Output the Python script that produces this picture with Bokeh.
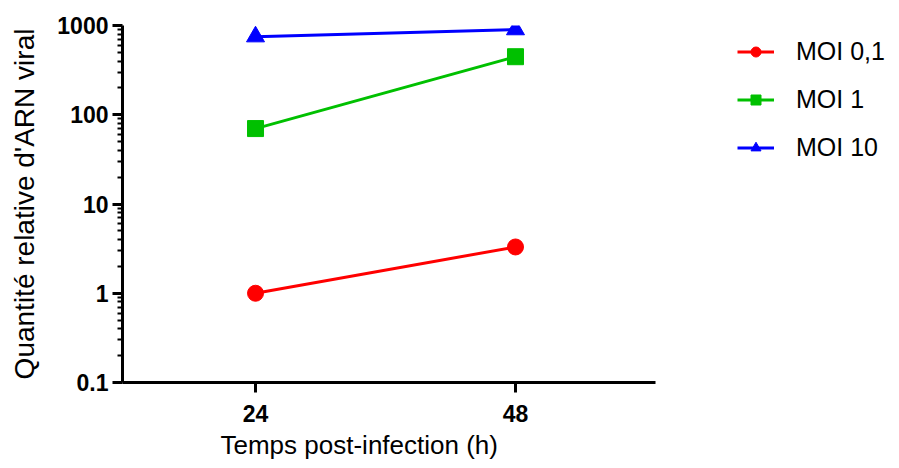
from bokeh.plotting import figure
from bokeh.models import Range1d, FixedTicker, CustomJSTickFormatter, Legend, LegendItem, Title
from bokeh.embed import file_html
from bokeh.resources import INLINE

hours = [24, 48]
moi_01 = [1.0, 3.3]
moi_1 = [70, 447]
moi_10 = [750, 900]
series_names = ["MOI 0,1", "MOI 1", "MOI 10"]
y_major = [0.1, 1, 10, 100, 1000]

colors = ["#FF0000", "#00C000", "#0000FF"]
markers = ["circle", "square", "triangle"]

W, H = 899, 468
X0, X1 = 11.72, 60.92
p = figure(width=W, height=H, output_backend="svg", toolbar_location=None,
           y_axis_type="log", x_range=Range1d(X0, 83.45), y_range=Range1d(0.1, 1000),
           min_border_left=122, min_border_top=25, min_border_bottom=86, min_border_right=0)
p.outline_line_color = None
p.xgrid.visible = False
p.ygrid.visible = False
p.background_fill_color = "white"
p.border_fill_color = "white"

items = []
for name, ys, c, m in zip(series_names, [moi_01, moi_1, moi_10], colors, markers):
    r1 = p.line(hours, ys, line_color=c, line_width=3)
    r2 = p.scatter(hours, ys, marker=m, size=16 if m != "triangle" else 18, fill_color=c, line_color=c)
    items.append(LegendItem(label=name, renderers=[r1, r2]))

minor = []
for d in [0.1, 1, 10, 100]:
    for k in range(2, 10):
        minor.append(d * k)

ya = p.yaxis[0]
ya.ticker = FixedTicker(ticks=y_major, minor_ticks=minor)
ya.formatter = CustomJSTickFormatter(code="return tick >= 1 ? tick.toFixed(0) : tick.toString();")
xa = p.xaxis[0]
xa.ticker = FixedTicker(ticks=hours, minor_ticks=[])
xa.bounds = (X0, X1)

for ax in (xa, ya):
    ax.axis_line_width = 3
    ax.axis_line_color = "black"
    ax.major_tick_line_width = 3
    ax.major_tick_line_color = "black"
    ax.major_tick_out = 10
    ax.major_tick_in = 0
    ax.minor_tick_line_width = 2
    ax.minor_tick_line_color = "black"
    ax.minor_tick_out = 5
    ax.minor_tick_in = 0
    ax.major_label_text_font = "Liberation Sans"
    ax.major_label_text_font_style = "bold"
    ax.major_label_text_font_size = "23px"
    ax.major_label_text_color = "black"
    ax.axis_label_text_font = "Liberation Sans"
    ax.axis_label_text_font_style = "normal"
    ax.axis_label_text_color = "black"

ya.axis_label_text_font_size = "28px"
ya.major_label_standoff = 4
ya.axis_label = "Quantité relative d'ARN viral"
ya.axis_label_standoff = 14
xa.major_label_standoff = 12

xtitle = Title(text="Temps post-infection (h)", align="left", offset=98, standoff=6,
               text_font="Liberation Sans", text_font_style="normal",
               text_font_size="26px", text_color="black")
p.add_layout(xtitle, "below")

legend = Legend(items=items, location=(615, 220), orientation="vertical",
                glyph_width=37, glyph_height=25, label_height=25, label_standoff=22,
                spacing=19, padding=0, margin=0, border_line_color=None,
                background_fill_alpha=0,
                label_text_font="Liberation Sans", label_text_font_size="25px",
                label_text_color="black")
p.add_layout(legend, "center")

open("out.html", "w").write(file_html(p, INLINE))
